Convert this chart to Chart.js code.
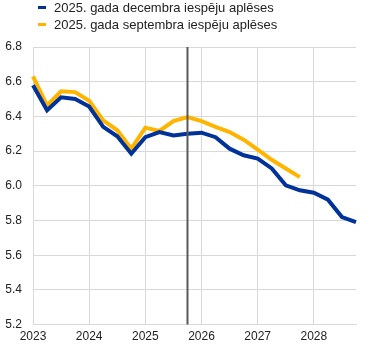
<!DOCTYPE html>
<html>
<head>
<meta charset="utf-8">
<script src="https://cdn.jsdelivr.net/npm/chart.js@4"></script>
<style>
    body { margin: 0; background: #fff; }
    #wrap { position: relative; width: 383px; height: 352px; }
    #legend { position: absolute; left: 38px; top: 0px; font: 13px "Liberation Sans", Arial, sans-serif; color: #222; }
    #legend div { height: 17px; line-height: 16px; white-space: nowrap; }
    #legend span { display: inline-block; width: 8px; height: 3px; margin-right: 8px; vertical-align: middle; position: relative; top: -1px; }
</style>
</head>
<body>
<div id="wrap">
    <canvas id="chart" width="383" height="352"></canvas>
    <div id="legend"></div>
</div>
<script>
// Quarterly periods, 2023 Q1 - 2028 Q4
const quarters = [
    "2023Q1", "2023Q2", "2023Q3", "2023Q4",
    "2024Q1", "2024Q2", "2024Q3", "2024Q4",
    "2025Q1", "2025Q2", "2025Q3", "2025Q4",
    "2026Q1", "2026Q2", "2026Q3", "2026Q4",
    "2027Q1", "2027Q2", "2027Q3", "2027Q4",
    "2028Q1", "2028Q2", "2028Q3", "2028Q4"
];

// December 2025 projections
const decemberValues = [
    6.58, 6.435, 6.51, 6.50, 6.457, 6.34, 6.285, 6.185,
    6.28, 6.31, 6.29, 6.30, 6.306, 6.28, 6.214, 6.176,
    6.157, 6.10, 6.003, 5.974, 5.96, 5.92, 5.82, 5.79
];

// September 2025 projections (end 2027 Q4)
const septemberValues = [
    6.63, 6.463, 6.545, 6.54, 6.49, 6.377, 6.32, 6.214,
    6.335, 6.316, 6.373, 6.396, 6.373, 6.34, 6.31, 6.266,
    6.208, 6.15, 6.10, 6.05, null, null, null, null
];

const seriesNames = ["2025. gada decembra iespēju aplēses", "2025. gada septembra iespēju aplēses"];
const yTicks = [5.2, 5.4, 5.6, 5.8, 6.0, 6.2, 6.4, 6.6, 6.8];
const cutoffQuarter = "2025Q4";

const colors = ["#003299", "#ffb400"];

// Legend as html text
const legendEl = document.getElementById("legend");
seriesNames.forEach((name, i) => {
    const row = document.createElement("div");
    row.innerHTML = '<span style="background:' + colors[i] + '"></span>' + name;
    legendEl.appendChild(row);
});

// Vertical line marking the projection cut-off
const cutoffLine = {
    id: "cutoffLine",
    afterDatasetsDraw(chart) {
        const x = chart.scales.x.getPixelForValue(quarters.indexOf(cutoffQuarter));
        const area = chart.chartArea;
        const ctx = chart.ctx;
        ctx.save();
        ctx.strokeStyle = "#595959";
        ctx.lineWidth = 2;
        ctx.beginPath();
        ctx.moveTo(x, area.top);
        ctx.lineTo(x, area.bottom);
        ctx.stroke();
        ctx.restore();
    }
};

Chart.defaults.font.family = '"Liberation Sans", Arial, sans-serif';
Chart.defaults.font.size = 12;
Chart.defaults.color = "#222";

new Chart(document.getElementById("chart").getContext("2d"), {
    type: "line",
    data: {
        labels: quarters,
        datasets: [
            { label: seriesNames[0], data: decemberValues, borderColor: colors[0], backgroundColor: colors[0] },
            { label: seriesNames[1], data: septemberValues, borderColor: colors[1], backgroundColor: colors[1] }
        ]
    },
    options: {
        responsive: false,
        animation: false,
        elements: {
            line: { borderWidth: 4, tension: 0, borderJoinStyle: "miter" },
            point: { radius: 0 }
        },
        layout: { padding: { top: 47, right: 27, bottom: 3, left: 0 } },
        plugins: {
            legend: { display: false },
            tooltip: { enabled: false }
        },
        scales: {
            x: {
                offset: false,
                grid: {
                    drawTicks: false,
                    color: ctx => (ctx.index % 4 === 0 ? "#d9d9d9" : "rgba(0,0,0,0)")
                },
                border: { color: "#d9d9d9" },
                ticks: {
                    autoSkip: false,
                    maxRotation: 0,
                    padding: 5,
                    callback: (v, i) => (i % 4 === 0 ? quarters[i].slice(0, 4) : "")
                }
            },
            y: {
                min: 5.2,
                max: 6.8,
                afterFit: scale => { scale.width = 33; },
                afterBuildTicks: scale => { scale.ticks = yTicks.map(v => ({ value: v })); },
                grid: { drawTicks: false, color: "#d9d9d9" },
                border: { display: false },
                ticks: {
                    padding: 11,
                    callback: v => v.toFixed(1)
                }
            }
        }
    },
    plugins: [cutoffLine]
});
</script>
</body>
</html>
